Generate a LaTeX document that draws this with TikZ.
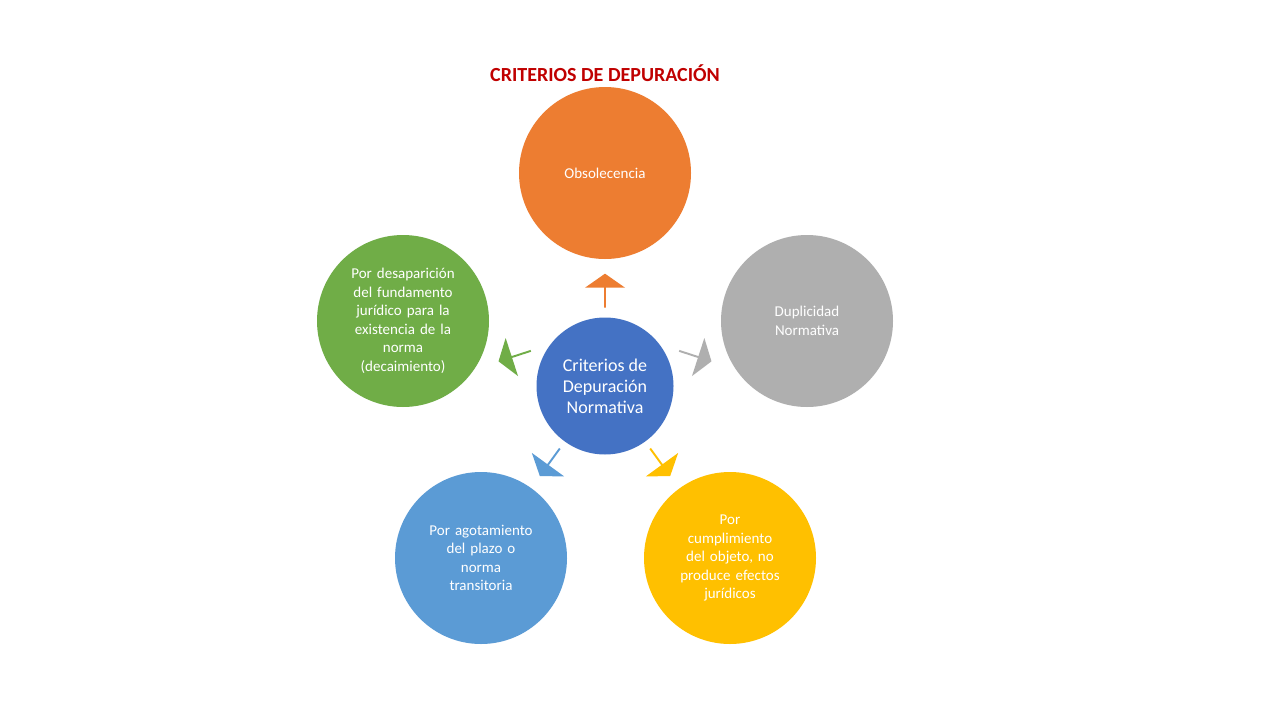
\documentclass[tikz,border=0pt]{standalone}
\usepackage{fontspec}
\setmainfont{Carlito}
\usetikzlibrary{shapes.arrows}
\definecolor{cOrange}{HTML}{ED7D31}
\definecolor{cGray}{HTML}{AFAFAF}
\definecolor{cYellow}{HTML}{FFC000}
\definecolor{cBlue}{HTML}{5B9BD5}
\definecolor{cGreen}{HTML}{70AD47}
\definecolor{cCenter}{HTML}{4472C4}
\definecolor{cTitle}{HTML}{C00000}
\tikzset{
  outer/.style={circle,fill=#1,text=white,minimum size=172pt,inner sep=0pt,
    align=center,text width=118pt,font=\fontsize{15}{18.5}\selectfont},
  pointer/.style={single arrow,fill=#1,minimum height=34pt,minimum width=40pt,
    single arrow head extend=4pt,inner sep=0pt,single arrow tip angle=110}
}
\begin{document}
\begin{tikzpicture}[x=1pt,y=-1pt]
  \useasboundingbox[fill=white] (0,0) rectangle (1280,720);
  \node[text=cTitle,font=\fontsize{20}{24}\selectfont\bfseries] (title) at (605,73) {CRITERIOS DE DEPURACIÓN};
  \node[circle,fill=cCenter,text=white,minimum size=137pt,inner sep=0pt,align=center,
    font=\fontsize{18}{21}\selectfont] (center) at (605,386) {Criterios de\\Depuración\\Normativa};
  \node[outer=cOrange] (obs) at (605,173) {Obsolecencia};
  \node[outer=cGray] (dup) at (807,321) {Duplicidad\\Normativa};
  \node[outer=cYellow] (cum) at (730,558) {Por\\cumplimiento\\del objeto, no\\produce efectos\\jurídicos};
  \node[outer=cBlue] (ago) at (481,558) {Por agotamiento\\del plazo o\\norma\\transitoria};
  \node[outer=cGreen] (fun) at (403,321) {Por desaparición\\del fundamento\\jurídico para la\\existencia de la\\norma\\(decaimiento)};
  % arrows
  \node[pointer=cOrange,rotate=90] (a1) at (605,291) {};
  \node[pointer=cGray,rotate=-18] (a2) at (695,356) {};
  \node[pointer=cYellow,rotate=-54] (a3) at (660,462) {};
  \node[pointer=cBlue,rotate=-126] (a4) at (550,462) {};
  \node[pointer=cGreen,rotate=198] (a5) at (515,356) {};
\end{tikzpicture}
\end{document}
